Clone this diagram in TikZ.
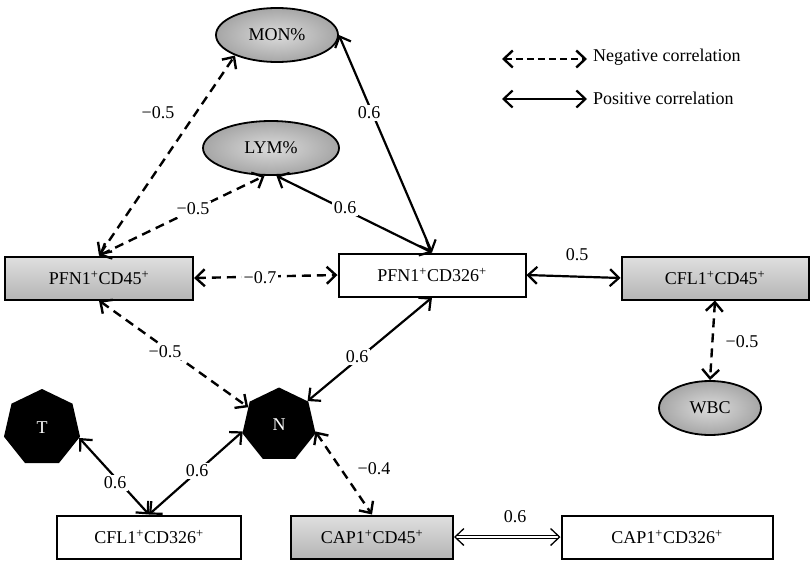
\documentclass[tikz,border=0pt]{standalone}
\usepackage{fontspec}
\setmainfont{Liberation Serif}
\usetikzlibrary{arrows.meta,shapes.geometric}
\begin{document}
\begin{tikzpicture}[x=1pt,y=-1pt,
  every node/.style={font=\fontsize{18}{21}\selectfont},
  >={Straight Barb[length=9pt,width=17pt]},
  whitebox/.style={draw=black, line width=2pt, minimum height=43pt, inner sep=0pt, fill=white},
  graybox/.style={whitebox, top color=gray!25, bottom color=gray!58},
  ell/.style={ellipse, draw=black, line width=1.8pt, inner color=gray!28, outer color=gray!70, minimum height=54pt, inner sep=0pt},
  hept/.style={regular polygon, regular polygon sides=7, minimum size=78pt, fill=black, text=white, inner sep=0pt},
  negcorr/.style={<->, line width=2.4pt, dash pattern=on 9pt off 6pt},
  poscorr/.style={<->, line width=2.2pt},
  lbl/.style={fill=white, inner sep=1.5pt},
  lbltext/.style={inner sep=1pt},
  legendtext/.style={anchor=west, font=\fontsize{18}{21}\selectfont, inner sep=0pt}]
\useasboundingbox (0,0) rectangle (810,562);

% nodes
\node[ell, minimum width=122pt] (mon) at (277,35) {MON\%};
\node[ell, minimum width=136pt] (lym) at (271,148) {LYM\%};
\node[ell, minimum width=102pt] (wbc) at (710,408) {WBC};
\node[graybox, minimum width=188pt] (pfn45) at (99,278) {PFN1\textsuperscript{+}CD45\textsuperscript{+}};
\node[whitebox, minimum width=187pt] (pfn326) at (432,275) {PFN1\textsuperscript{+}CD326\textsuperscript{+}};
\node[graybox, minimum width=187pt] (cfl45) at (715,278) {CFL1\textsuperscript{+}CD45\textsuperscript{+}};
\node[hept] (t) at (42,428) {T};
\node[hept, minimum size=75pt] (n) at (279,425) {N};
\node[whitebox, minimum width=184pt] (cfl326) at (149,537) {CFL1\textsuperscript{+}CD326\textsuperscript{+}};
\node[graybox, minimum width=162pt] (cap45) at (372,537) {CAP1\textsuperscript{+}CD45\textsuperscript{+}};
\node[whitebox, minimum width=211pt] (cap326) at (667,537) {CAP1\textsuperscript{+}CD326\textsuperscript{+}};

% connectors
\draw[negcorr] (pfn45.north) -- (mon.206);
\draw[negcorr] (pfn45.north) -- (lym.-103);
\draw[poscorr] (mon.east) -- (pfn326.north);
\draw[poscorr] (lym.-79.5) -- (pfn326.north);
\draw[negcorr] (pfn45.east) -- (pfn326.west);
\draw[poscorr] (pfn326.east) -- (cfl45.west);
\draw[negcorr] (cfl45.south) -- (wbc.north);
\draw[negcorr] (pfn45.south) -- (n.150);
\draw[poscorr] (n.40) -- (pfn326.south);
\draw[poscorr] (t.-15) -- (cfl326.north);
\draw[poscorr] (n.190) -- (cfl326.north);
\draw[negcorr] (n.-10) -- (cap45.north);
\draw[poscorr, line width=1.3pt, double, double distance=1.6pt] (cap45.east) -- (cap326.west);

% labels
\node[lbltext] (l1) at (158,113) {−0.5};
\node[lbl] (l2) at (193,209) {−0.5};
\node[lbl] (l3) at (369,113) {0.6};
\node[lbl] (l4) at (345,208) {0.6};
\node[lbl] (l5) at (260,278) {−0.7};
\node[lbltext] (l6) at (577,255) {0.5};
\node[lbltext] (l7) at (742,342) {−0.5};
\node[lbl] (l8) at (165,352) {−0.5};
\node[lbl] (l9) at (357,357) {0.6};
\node[lbl] (l10) at (115,483) {0.6};
\node[lbl] (l11) at (197,471) {0.6};
\node[lbltext] (l12) at (374,469) {−0.4};
\node[lbltext] (l13) at (515,517) {0.6};

% legend
\coordinate (na) at (502,59);
\coordinate (nb) at (587,59);
\coordinate (pa) at (502,99);
\coordinate (pb) at (587,99);
\draw[negcorr, dash pattern=on 7pt off 4pt] (na) -- (nb);
\draw[poscorr] (pa) -- (pb);
\node[legendtext] (negt) at (593,57) {Negative correlation};
\node[legendtext] (post) at (593,98) {Positive correlation};
\end{tikzpicture}
\end{document}
